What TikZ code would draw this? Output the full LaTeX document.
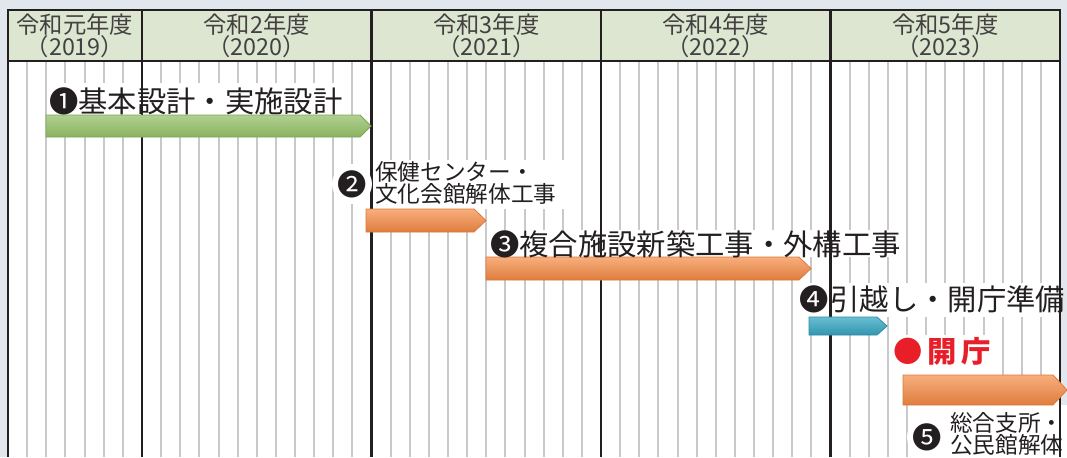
\documentclass[tikz,border=0pt]{standalone}
\usepackage{fontspec}
\setmainfont{Noto Sans CJK JP}
\definecolor{bgc}{RGB}{226,231,237}
\definecolor{hdr}{RGB}{220,230,208}
\definecolor{gridg}{RGB}{201,201,205}
\definecolor{ink}{RGB}{35,31,32}
\definecolor{gtop}{RGB}{176,208,145}
\definecolor{gbot}{RGB}{138,178,94}
\definecolor{gedge}{RGB}{125,165,85}
\definecolor{otop}{RGB}{248,175,125}
\definecolor{obot}{RGB}{222,125,62}
\definecolor{oedge}{RGB}{225,120,55}
\definecolor{ttop}{RGB}{105,190,210}
\definecolor{tbot}{RGB}{50,150,175}
\definecolor{tedge}{RGB}{45,140,165}
\definecolor{kaicho}{RGB}{232,30,40}
\tikzset{
  month/.style={draw=gridg, line width=1.5pt},
  yearline/.style={draw=ink, line width=2.2pt},
  hdrtext/.style={font=\fontsize{17.5}{16.5}\selectfont, text=ink!85, align=center, inner sep=0pt},
  biglabel/.style={font=\fontsize{22}{22}\selectfont, text=ink, inner sep=0pt, anchor=west},
  smalllabel/.style={font=\fontsize{17}{16}\selectfont, text=ink, inner sep=0pt, align=left, anchor=west},
  numdot/.style={font=\fontsize{22}{22}\selectfont, text=ink, circle, fill=white, inner sep=0pt},
  openlabel/.style={font=\fontsize{22}{22}\selectfont\bfseries, text=kaicho, inner sep=0pt, anchor=west},
  greenbar/.style={top color=gtop, bottom color=gbot, draw=gedge, line width=0.6pt},
  orangebar/.style={top color=otop, bottom color=obot, draw=oedge, line width=0.6pt},
  tealbar/.style={top color=ttop, bottom color=tbot, draw=tedge, line width=0.6pt},
  whitebox/.style={fill=white}
}
\begin{document}
\begin{tikzpicture}[x=0.75pt,y=-0.75pt]
\useasboundingbox (0,0) rectangle (1067,457);
\fill[bgc] (0,0) rectangle (1067,457);
\fill[white] (8,61) rectangle (1060,457);
\fill[hdr] (8,10) rectangle (1060,61);
% month lines
\foreach \k in {1,...,6} \draw[month] ({8+\k*19.13},61) -- ++(0,396);
\foreach \s in {142,371.5,601,830.5}
  \foreach \k in {1,...,11} \draw[month] ({\s+\k*229.5/12},61) -- ++(0,396);
% white label backgrounds
\fill[whitebox] (49,83) rectangle (346,115);
\fill[whitebox] (372,160) rectangle (566,209);
\fill[whitebox] (490,230) rectangle (902,257);
\fill[whitebox] (798,283) rectangle (1059,317);
\fill[whitebox] (892,335) rectangle (986,375);
\fill[whitebox] (914,405) rectangle (1067,457);
% year lines and frame
\foreach \s in {142,371.5,601,830.5} \draw[yearline] (\s,10) -- (\s,457);
\draw[yearline] (8,457) -- (8,10) -- (1060,10) -- (1060,457);
\draw[yearline] (8,61) -- (1060,61);
% header
\node[hdrtext] (h2019) at (75,36) {令和元年度\\（2019）};
\node[hdrtext] (h2020) at (256.75,36) {令和2年度\\（2020）};
\node[hdrtext] (h2021) at (486.25,36) {令和3年度\\（2021）};
\node[hdrtext] (h2022) at (715.75,36) {令和4年度\\（2022）};
\node[hdrtext] (h2023) at (945.25,36) {令和5年度\\（2023）};
% bars
\shade[greenbar] (46,115) -- (360,115) -- (371,126) -- (360,137) -- (46,137) -- cycle;
\shade[orangebar] (366,209) -- (474,209) -- (486,220.5) -- (474,232) -- (366,232) -- cycle;
\shade[orangebar] (486,257) -- (799,257) -- (811,268.5) -- (799,280) -- (486,280) -- cycle;
\shade[tealbar] (809,317) -- (877,317) -- (887,326) -- (877,335) -- (809,335) -- cycle;
\shade[orangebar] (903,375) -- (1053,375) -- (1067,390) -- (1053,405) -- (903,405) -- cycle;
% labels
\node[biglabel] (l1) at (49,101) {❶基本設計・実施設計};
\node[numdot] (n2) at (352,184) {❷};
\node[smalllabel] (l2) at (375,183) {保健センター・\\文化会館解体工事};
\node[biglabel] (l3) at (490,244) {❸複合施設新築工事・外構工事};
\node[biglabel] (l4) at (799,299) {❹\kern1.5pt 引越し・開庁準備};
\node[openlabel] (open) at (893,351) {●\kern4pt 開\kern3pt 庁};
\node[numdot] (n5) at (927,437) {❺};
\node[smalllabel] (l5) at (950,434) {総合支所・\\公民館解体};
\end{tikzpicture}
\end{document}
